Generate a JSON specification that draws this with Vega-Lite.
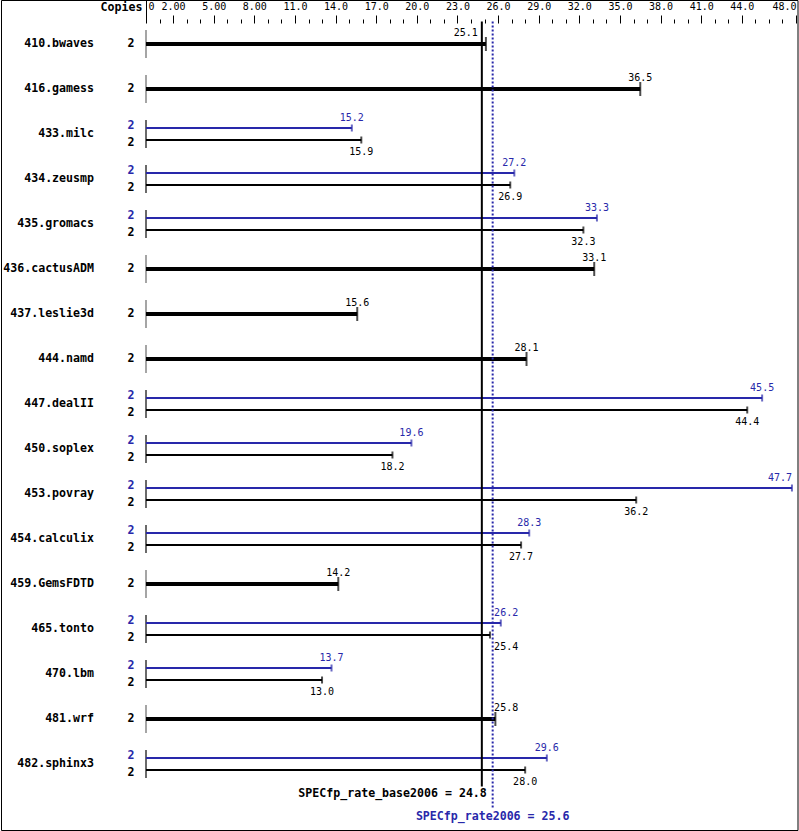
{
  "$schema": "https://vega.github.io/schema/vega-lite/v6.json",
  "width": 796.5,
  "height": 830,
  "autosize": {"type": "none"},
  "padding": {"left": 1, "top": 0, "right": 1.5, "bottom": 1},
  "background": "white",
  "config": {
    "view": {"stroke": "black", "strokeWidth": 1},
    "font": "DejaVu Sans Mono",
    "axis": {"labelOverlap": false, "labelFlush": false, "labelBound": false}
  },
  "datasets": {
    "rates": [
      {"bench": "410.bwaves", "kind": "single", "value": 25.1, "copies": 2},
      {"bench": "416.gamess", "kind": "single", "value": 36.5, "copies": 2},
      {"bench": "433.milc", "kind": "peak", "value": 15.2, "copies": 2},
      {"bench": "433.milc", "kind": "base", "value": 15.9, "copies": 2},
      {"bench": "434.zeusmp", "kind": "peak", "value": 27.2, "copies": 2},
      {"bench": "434.zeusmp", "kind": "base", "value": 26.9, "copies": 2},
      {"bench": "435.gromacs", "kind": "peak", "value": 33.3, "copies": 2},
      {"bench": "435.gromacs", "kind": "base", "value": 32.3, "copies": 2},
      {"bench": "436.cactusADM", "kind": "single", "value": 33.1, "copies": 2},
      {"bench": "437.leslie3d", "kind": "single", "value": 15.6, "copies": 2},
      {"bench": "444.namd", "kind": "single", "value": 28.1, "copies": 2},
      {"bench": "447.dealII", "kind": "peak", "value": 45.5, "copies": 2},
      {"bench": "447.dealII", "kind": "base", "value": 44.4, "copies": 2},
      {"bench": "450.soplex", "kind": "peak", "value": 19.6, "copies": 2},
      {"bench": "450.soplex", "kind": "base", "value": 18.2, "copies": 2},
      {"bench": "453.povray", "kind": "peak", "value": 47.7, "copies": 2},
      {"bench": "453.povray", "kind": "base", "value": 36.2, "copies": 2},
      {"bench": "454.calculix", "kind": "peak", "value": 28.3, "copies": 2},
      {"bench": "454.calculix", "kind": "base", "value": 27.7, "copies": 2},
      {"bench": "459.GemsFDTD", "kind": "single", "value": 14.2, "copies": 2},
      {"bench": "465.tonto", "kind": "peak", "value": 26.2, "copies": 2},
      {"bench": "465.tonto", "kind": "base", "value": 25.4, "copies": 2},
      {"bench": "470.lbm", "kind": "peak", "value": 13.7, "copies": 2},
      {"bench": "470.lbm", "kind": "base", "value": 13.0, "copies": 2},
      {"bench": "481.wrf", "kind": "single", "value": 25.8, "copies": 2},
      {"bench": "482.sphinx3", "kind": "peak", "value": 29.6, "copies": 2},
      {"bench": "482.sphinx3", "kind": "base", "value": 28.0, "copies": 2}
    ],
    "means": [
      {"kind": "base", "mean": 24.8, "label": "SPECfp_rate_base2006 = 24.8"},
      {"kind": "peak", "mean": 25.6, "label": "SPECfp_rate2006 = 25.6"}
    ]
  },
  "data": {"name": "rates"},
  "encoding": {
    "y": {
      "field": "bench", "type": "nominal", "sort": "ascending",
      "scale": {"range": [21.5, 786.5], "paddingInner": 0, "paddingOuter": 0},
      "axis": {
        "orient": "left", "offset": -145, "domain": false, "ticks": false, "tickSize": 0,
        "labelPadding": 52.5, "labelFont": "DejaVu Sans Mono", "labelFontWeight": "bold",
        "labelFontSize": 11.6, "labelColor": "black", "title": null, "grid": false
      }
    }
  },
  "layer": [
    {
      "mark": {"type": "tick", "size": 28, "thickness": 1, "color": "black", "orient": "vertical"},
      "encoding": {
        "x": {
          "datum": 0, "type": "quantitative",
          "scale": {"domain": [0, 48], "range": [145, 795], "nice": false, "zero": false},
          "axis": {
            "orient": "top", "offset": -23, "domain": false, "grid": false,
            "values": [0,1,2,3,4,5,6,7,8,9,10,11,12,13,14,15,16,17,18,19,20,21,22,23,24,25,26,27,28,29,30,31,32,33,34,35,36,37,38,39,40,41,42,43,44,45,46,47,48],
            "tickCount": 100,
            "labelExpr": "datum.value == 0 ? '0' : ((datum.value % 3 == 2 && datum.value <= 44) || datum.value == 48) ? (datum.value < 10 ? format(datum.value, '.2f') : format(datum.value, '.1f')) : ''",
            "labelFont": "DejaVu Sans Mono", "labelFontSize": 10, "labelColor": "black",
            "labelAlign": {"condition": [{"test": "datum.value == 0", "value": "left"}, {"test": "datum.value == 48", "value": "right"}], "value": "center"},
            "labelOverlap": false, "labelFlush": false, "labelBound": false,
            "tickColor": "black", "tickWidth": 1,
            "tickSize": {"condition": [{"test": "datum.value == 0", "value": 23}, {"test": "datum.value == 48 || (datum.value % 3 == 2 && datum.value <= 44)", "value": 8}], "value": 4},
            "labelPadding": {"condition": [{"test": "datum.value == 0", "value": -11}, {"test": "datum.value == 48 || (datum.value % 3 == 2 && datum.value <= 44)", "value": 4}], "value": 8},
            "labelOffset": {"condition": {"test": "datum.value == 0", "value": 2}, "value": 0},
            "title": "Copies", "titleFont": "DejaVu Sans Mono", "titleFontWeight": "bold", "titleFontSize": 11.6,
            "titleColor": "black", "titleX": 141, "titleY": -16, "titleAlign": "right", "titleBaseline": "middle", "titleAngle": 0
          }
        }
      }
    },
    {
      "transform": [{"filter": "datum.kind == 'single'"}],
      "mark": {"type": "rule", "strokeWidth": 4},
      "encoding": {
        "x": {"field": "value", "type": "quantitative"},
        "x2": {"datum": 0},
        "color": {"field": "kind", "type": "nominal", "scale": {"domain": ["single", "peak", "base"], "range": ["#000000", "#2828aa", "#000000"]}, "legend": null}
      }
    },
    {
      "transform": [{"filter": "datum.kind != 'single'"}],
      "mark": {"type": "rule", "strokeWidth": 2},
      "encoding": {
        "x": {"field": "value", "type": "quantitative"},
        "x2": {"datum": 0},
        "yOffset": {"field": "kind", "type": "nominal", "scale": {"type": "point", "domain": ["peak", "single", "base"], "range": [16.5, 28.5], "padding": 0}},
        "color": {"field": "kind", "type": "nominal", "legend": null}
      }
    },
    {
      "transform": [{"filter": "datum.kind == 'single'"}],
      "mark": {"type": "tick", "size": 14, "thickness": 2, "orient": "vertical"},
      "encoding": {
        "x": {"field": "value", "type": "quantitative"},
        "color": {"field": "kind", "type": "nominal", "legend": null}
      }
    },
    {
      "transform": [{"filter": "datum.kind != 'single'"}],
      "mark": {"type": "tick", "size": 7, "thickness": 2, "orient": "vertical"},
      "encoding": {
        "x": {"field": "value", "type": "quantitative"},
        "yOffset": {"field": "kind", "type": "nominal"},
        "color": {"field": "kind", "type": "nominal", "legend": null}
      }
    },
    {
      "mark": {
        "type": "text", "font": "DejaVu Sans Mono", "fontSize": 10, "baseline": "middle", "align": "center",
        "dy": {"expr": "datum.kind == 'base' ? 11.5 : (datum.kind == 'peak' ? -10.5 : -11.5)"},
        "dx": {"expr": "(scale('x', datum.value) + 12 > scale('x', 48)) ? (scale('x', 48) - 16 - scale('x', datum.value)) : ((scale('x', datum.value) + 12 > scale('x', 24.8) - 1 && scale('x', datum.value) - 12 < scale('x', 25.6) + 1) ? ((scale('x', datum.value) < (scale('x', 24.8) + scale('x', 25.6)) / 2) ? (scale('x', 24.8) - 16 - scale('x', datum.value)) : (scale('x', 25.6) + 13.5 - scale('x', datum.value))) : 0)"}
      },
      "encoding": {
        "x": {"field": "value", "type": "quantitative"},
        "yOffset": {"field": "kind", "type": "nominal"},
        "text": {"field": "value", "type": "quantitative", "format": ".1f"},
        "color": {"field": "kind", "type": "nominal", "legend": null}
      }
    },
    {
      "mark": {
        "type": "text", "font": "DejaVu Sans Mono", "fontSize": 11.6, "fontWeight": "bold", "align": "center", "baseline": "middle", "dx": -15,
        "dy": {"expr": "datum.kind == 'base' ? 2.5 : (datum.kind == 'peak' ? -2.5 : 0)"}
      },
      "encoding": {
        "x": {"datum": 0, "type": "quantitative"},
        "yOffset": {"field": "kind", "type": "nominal"},
        "text": {"field": "copies", "type": "nominal"},
        "color": {"field": "kind", "type": "nominal", "legend": null}
      }
    },
    {
      "data": {"name": "means"},
      "transform": [{"filter": "datum.kind == 'base'"}],
      "mark": {"type": "rule", "strokeWidth": 2, "color": "black", "yOffset": -22.5, "y2Offset": 22.5},
      "encoding": {
        "x": {"field": "mean", "type": "quantitative"},
        "y": {"datum": "410.bwaves", "type": "nominal"},
        "y2": {"datum": "482.sphinx3"}
      }
    },
    {
      "data": {"name": "means"},
      "transform": [{"filter": "datum.kind == 'peak'"}],
      "mark": {"type": "rule", "strokeWidth": 2, "color": "#2828aa", "strokeDash": [2, 2], "yOffset": -22.5, "y2Offset": 44},
      "encoding": {
        "x": {"field": "mean", "type": "quantitative"},
        "y": {"datum": "410.bwaves", "type": "nominal"},
        "y2": {"datum": "482.sphinx3"}
      }
    },
    {
      "data": {"name": "means"},
      "mark": {
        "type": "text", "font": "DejaVu Sans Mono", "fontSize": 11.6, "fontWeight": "bold", "baseline": "middle",
        "align": {"expr": "datum.kind == 'base' ? 'right' : 'center'"},
        "dx": {"expr": "datum.kind == 'base' ? 5 : 0"},
        "dy": {"expr": "datum.kind == 'base' ? 30 : 53"}
      },
      "encoding": {
        "x": {"field": "mean", "type": "quantitative"},
        "y": {"datum": "482.sphinx3", "type": "nominal"},
        "text": {"field": "label", "type": "nominal"},
        "color": {"field": "kind", "type": "nominal", "legend": null}
      }
    }
  ]
}
